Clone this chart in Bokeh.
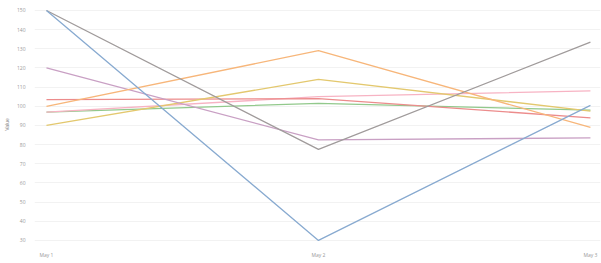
from bokeh.plotting import figure
from bokeh.models import Range1d, FixedTicker
from bokeh.embed import file_html
from bokeh.resources import INLINE

dates = ["May 1", "May 2", "May 3"]
x_pos = [0, 1, 2]

series_blue = [150, 30, 100.5]
series_gray = [150, 77.5, 133.5]
series_orange = [100, 129, 89]
series_yellow = [90, 114, 97.5]
series_purple = [120, 82.5, 83.5]
series_red = [103.5, 104, 94]
series_pink = [97, 105, 108]
series_green = [97, 101.5, 98]

y_ticks = [30, 40, 50, 60, 70, 80, 90, 100, 110, 120, 130, 140, 150]

series = [
    (series_green, "#92c98c"),
    (series_pink, "#f7b3c3"),
    (series_red, "#ec8c8c"),
    (series_yellow, "#e3c86e"),
    (series_purple, "#c9a0c4"),
    (series_orange, "#f7b67a"),
    (series_gray, "#a09b9b"),
    (series_blue, "#88aad0"),
]

p = figure(width=601, height=263, output_backend="svg", toolbar_location=None,
           x_range=Range1d(-0.044, 2.037), y_range=Range1d(25.8, 155.2),
           min_border_left=28, min_border_right=1, min_border_top=0, min_border_bottom=15)
p.outline_line_color = None
p.background_fill_color = "white"

for vals, col in series:
    p.line(x_pos, vals, line_color=col, line_width=1.3)

p.xaxis.ticker = FixedTicker(ticks=x_pos)
p.xaxis.major_label_overrides = {i: d for i, d in zip(x_pos, dates)}
p.yaxis.ticker = FixedTicker(ticks=y_ticks)
p.yaxis.axis_label = "Value"

for ax in [p.xaxis[0], p.yaxis[0]]:
    ax.axis_line_color = None
    ax.major_tick_line_color = None
    ax.minor_tick_line_color = None
    ax.major_tick_out = 0
    ax.major_tick_in = 0
    ax.minor_tick_out = 0
    ax.minor_tick_in = 0
    ax.major_label_text_font_size = "5px"
    ax.major_label_text_color = "#999999"
    ax.major_label_text_font = "Open Sans"
    ax.axis_label_text_font_size = "5px"
    ax.axis_label_text_color = "#888888"
    ax.axis_label_text_font_style = "normal"
    ax.axis_label_standoff = 4
    ax.major_label_standoff = 9

p.xaxis.major_label_standoff = 3

p.xgrid.grid_line_color = None
p.ygrid.grid_line_color = "#f2f2f2"

open("out.html", "w").write(file_html(p, INLINE))
